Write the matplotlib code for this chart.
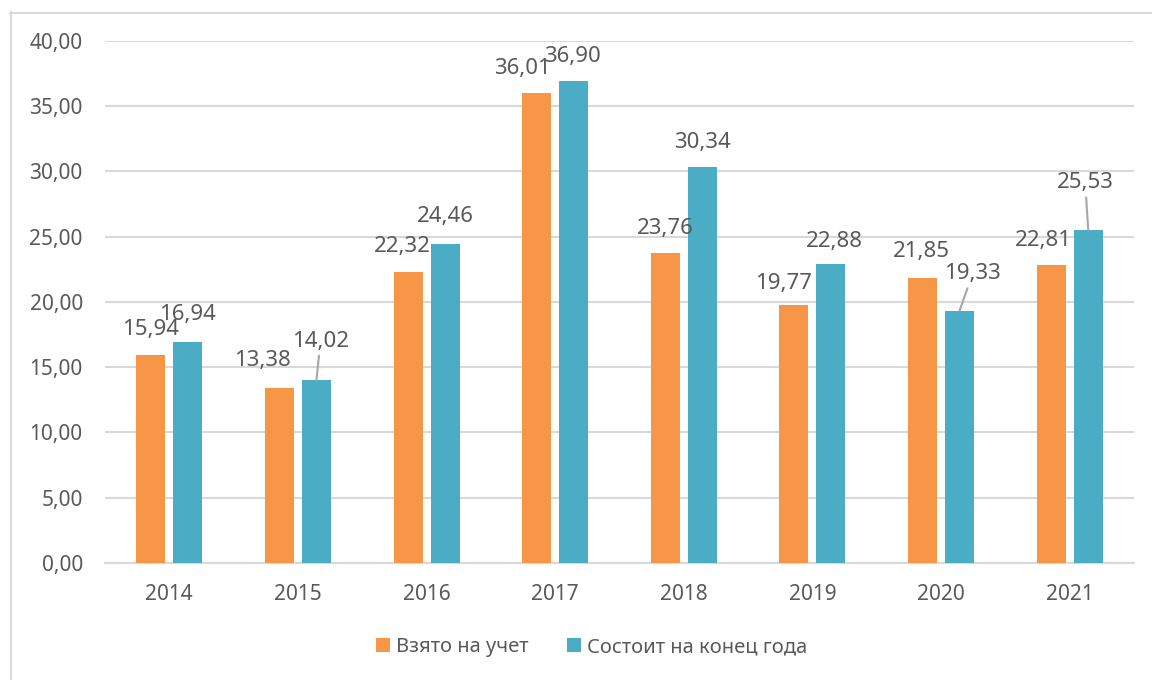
import numpy as np
import matplotlib.pyplot as plt
from matplotlib.lines import Line2D

plt.rcParams['font.family'] = ['Noto Sans', 'DejaVu Sans']

years = ['2014', '2015', '2016', '2017', '2018', '2019', '2020', '2021']
taken = [15.94, 13.38, 22.32, 36.01, 23.76, 19.77, 21.85, 22.81]
standing = [16.94, 14.02, 24.46, 36.90, 30.34, 22.88, 19.33, 25.53]
series_names = ['Взято на учет', 'Состоит на конец года']

# label offsets from the bar top, in pixels
taken_off = [(0, 25), (-17, 28), (-6, 25), (-14, 25), (0, 24), (-10, 22), (-1, 26), (-8, 25)]
standing_off = [(0, 27), (4, 39), (0, 27), (-1, 25), (0, 25), (3, 23), (13, 37), (-3, 47)]
leader = [False, True, False, False, False, False, True, True]

ORANGE = '#F79646'
TEAL = '#4BACC6'
GRID = '#D9D9D9'
TXT = '#595959'

W, H = 1152, 680
fig = plt.figure(figsize=(W / 100, H / 100), dpi=100)
ax = fig.add_axes([105 / W, 1 - 563 / H, (1134 - 105) / W, (563 - 41) / H])

x = np.arange(len(years))
bw = 0.225
sh = 0.144
b1 = ax.bar(x - sh, taken, bw, color=ORANGE, zorder=3, label=series_names[0])
b2 = ax.bar(x + sh, standing, bw, color=TEAL, zorder=3, label=series_names[1])

fmt = lambda v: f'{v:.2f}'.replace('.', ',')
for i in range(len(years)):
    ax.annotate(fmt(taken[i]), xy=(x[i] - sh, taken[i]), xytext=taken_off[i],
                textcoords='offset pixels', ha='center', va='center',
                fontsize=16, color=TXT, zorder=4)
    props = None
    if leader[i]:
        props = dict(arrowstyle='-', color='#A6A6A6', lw=1.5, shrinkA=1, shrinkB=0)
    ax.annotate(fmt(standing[i]), xy=(x[i] + sh, standing[i]), xytext=standing_off[i],
                textcoords='offset pixels', ha='center', va='center',
                fontsize=16, color=TXT, zorder=4, arrowprops=props)

ax.set_xlim(-0.5, len(years) - 0.5)
ax.set_ylim(0, 40)
ax.set_yticks(np.arange(0, 41, 5))
ax.set_yticklabels([fmt(v) for v in np.arange(0, 41, 5)])
ax.set_xticks(x)
ax.set_xticklabels(years)
ax.tick_params(axis='y', length=0, pad=16, labelsize=15, labelcolor=TXT)
ax.tick_params(axis='x', length=0, pad=15, labelsize=15, labelcolor=TXT)
ax.grid(axis='y', color=GRID, lw=1.5, zorder=0)
for s in ['top', 'right', 'left']:
    ax.spines[s].set_visible(False)
ax.spines['bottom'].set_color(GRID)
ax.spines['bottom'].set_linewidth(1.5)

fig.legend(handles=[b1, b2], loc='center', bbox_to_anchor=(592 / W, 1 - 647 / H),
           ncol=2, frameon=False, fontsize=14.5, labelcolor=TXT,
           handlelength=0.7, handleheight=0.7, handletextpad=0.3, columnspacing=1.9)

# chart area border
fig.add_artist(Line2D([10.5 / W, 10.5 / W], [0, 1 - 12 / H], transform=fig.transFigure,
                      color=GRID, lw=1.5))
fig.add_artist(Line2D([10 / W, 1], [1 - 12.5 / H, 1 - 12.5 / H], transform=fig.transFigure,
                      color=GRID, lw=1.5))

fig.savefig('out.png', dpi=100)
